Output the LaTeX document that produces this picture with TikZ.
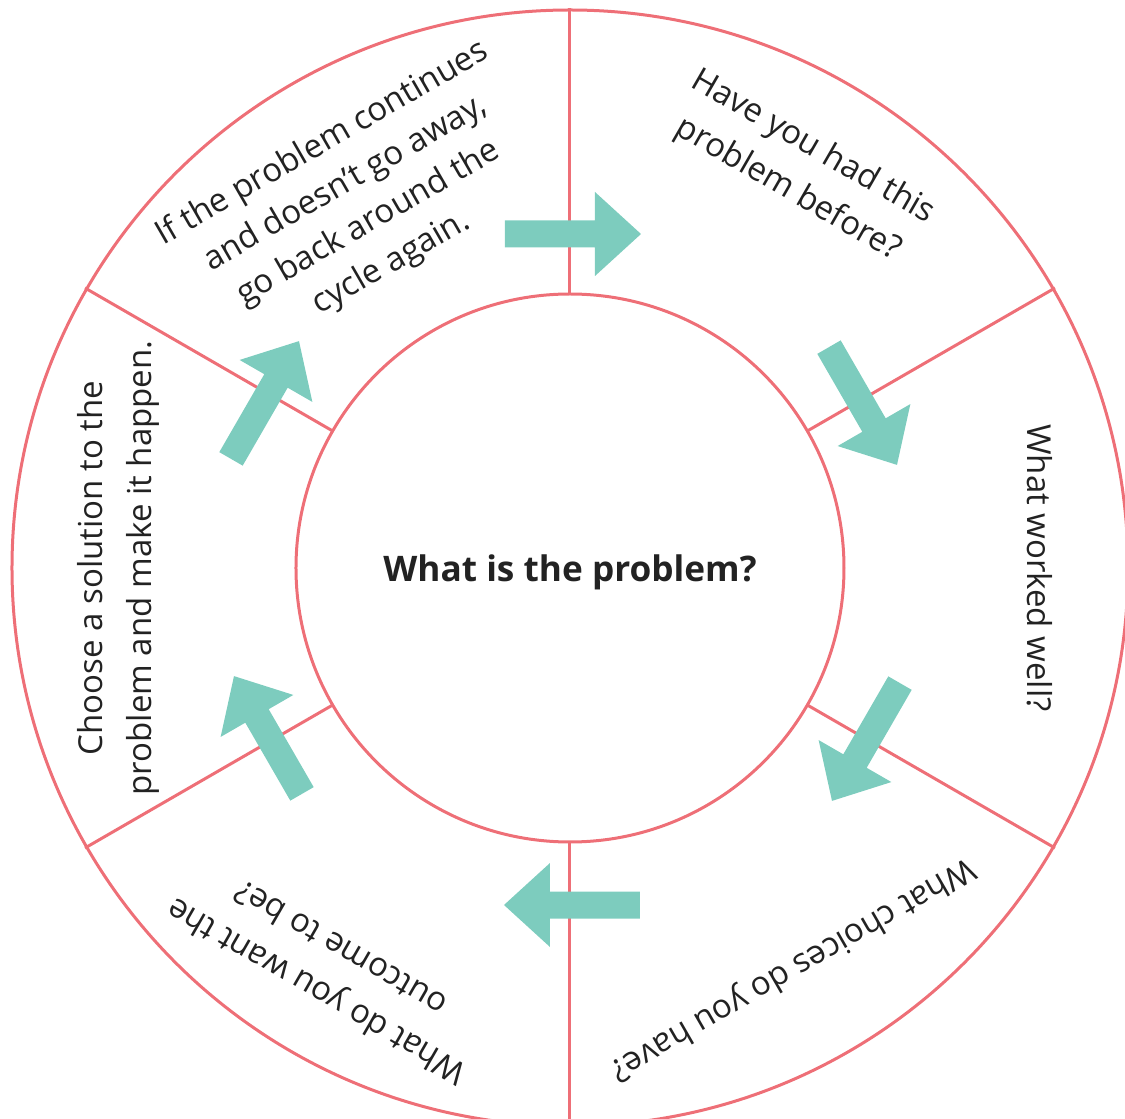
\documentclass[tikz,border=0pt]{standalone}
\usepackage{fontspec}
\setmainfont{Open Sans}
\definecolor{ringpink}{HTML}{EE6F77}
\definecolor{arrowteal}{HTML}{7DCCBE}
\definecolor{textgray}{HTML}{222222}
\begin{document}
\begin{tikzpicture}[x=0.5pt,y=0.5pt,
  ring/.style={draw=ringpink, line width=1.5pt},
  sectortext/.style={align=center, text=textgray, inner sep=0pt,
    font=\fontsize{16.5}{24.5}\selectfont},
  tighttext/.style={sectortext, font=\fontsize{16.5}{23}\selectfont},
  hubtext/.style={text=textgray, inner sep=0pt,
    font=\bfseries\fontsize{17.6}{22}\selectfont},
  cyclearrow/.pic={\fill[arrowteal] (-68,-13.5) -- (22,-13.5) -- (22,-42)
    -- (68,0) -- (22,42) -- (22,13.5) -- (-68,13.5) -- cycle;}]
\useasboundingbox (-570,-551) rectangle (555,568);
\clip (-570,-551) rectangle (555,568);
% rings
\draw[ring] (0,0) circle[radius=558];
\draw[ring] (0,0) circle[radius=274];
% sector dividers
\foreach \a in {90,30,-30,-90,-150,150}
  \draw[ring] (\a:274) -- (\a:560);
% arrows (clockwise)
\pic[rotate=0]    at (3,334)     {cyclearrow};
\pic[rotate=-60]  at (293,162)   {cyclearrow};
\pic[rotate=-120] at (296,-174)  {cyclearrow};
\pic[rotate=180]  at (2,-337)    {cyclearrow};
\pic[rotate=120]  at (-302,-167) {cyclearrow};
\pic[rotate=60]   at (-305,168)  {cyclearrow};
% texts
\node[hubtext] (hub) at (0,-4) {What is the problem?};
\node[sectortext, rotate=-30] (past) at (60:461)
  {Have you had this\\problem before?};
\node[sectortext, rotate=-90] (worked) at (0:470)
  {What worked well?};
\node[sectortext, rotate=-150] (choices) at (-61:458)
  {What choices do you have?};
\node[sectortext, rotate=150] (outcome) at (-121:470)
  {What do you want the\\outcome to be?};
\node[sectortext, rotate=90] (choose) at (180:452)
  {Choose a solution to the\\problem and make it happen.};
\node[tighttext, rotate=30] (again) at (120.3:422)
  {If the problem continues\\and doesn't go away,\\go back around the\\cycle again.};
\end{tikzpicture}
\end{document}
